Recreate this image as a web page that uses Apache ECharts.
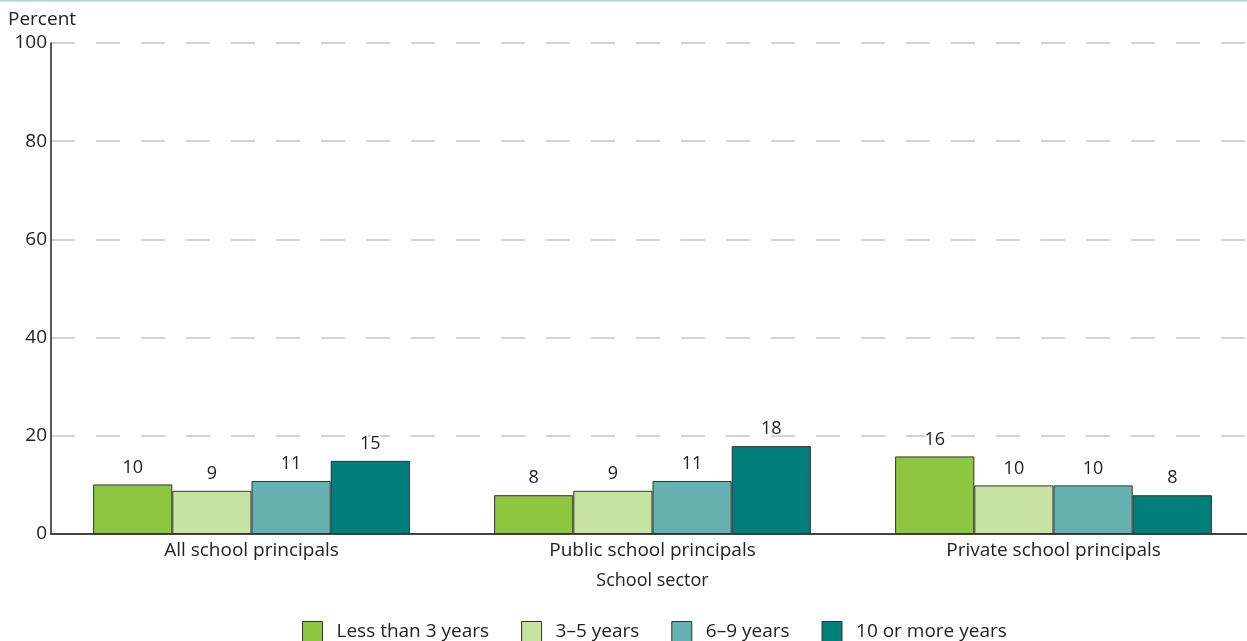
<!DOCTYPE html>
<html><head><meta charset="utf-8">
<script src="https://cdn.jsdelivr.net/npm/echarts@6/dist/echarts.min.js"></script>
<style>html,body{margin:0;padding:0;background:#fff}#c{width:1247px;height:641px}</style>
</head><body><div id="c"></div>
<script>
const categories = ['All school principals', 'Public school principals', 'Private school principals'];
const seriesNames = ['Less than 3 years', '3–5 years', '6–9 years', '10 or more years'];
const lessThan3 = [10.1, 7.9, 15.8];
const years3to5 = [8.8, 8.8, 9.9];
const years6to9 = [10.8, 10.8, 9.9];
const years10plus = [14.9, 17.9, 7.9];
const yTicks = [0, 20, 40, 60, 80, 100];
const colors = ['#8dc63f', '#c6e3a2', '#67b2b0', '#007f7a'];
const FONT = 'Open Sans';
const values = [lessThan3, years3to5, years6to9, years10plus];

const chart = echarts.init(document.getElementById('c'));
chart.setOption({
  animation: false,
  textStyle: { fontFamily: FONT },
  title: { text: 'Percent', left: 3, top: 5, textStyle: { fontFamily: FONT, fontSize: 19, fontWeight: 'normal', color: '#222' } },
  graphic: [{ type: 'rect', shape: { x: 0, y: 0, width: 1247, height: 1.5 }, style: { fill: '#a9d9d9' } }],
  grid: { left: 51, width: 1203, top: 43, height: 491, outerBoundsMode: 'none', containLabel: false },
  legend: {
    bottom: -6, left: 297, itemWidth: 20, itemHeight: 20, itemGap: 32, icon: 'rect',
    textStyle: { fontFamily: FONT, fontSize: 19, color: '#222', padding: [0, 0, 0, 9] },
    data: seriesNames.map((n, i) => ({ name: n, itemStyle: { color: colors[i], borderColor: '#333', borderWidth: 1 } }))
  },
  xAxis: {
    type: 'category', data: categories,
    name: 'School sector', nameLocation: 'middle', nameGap: 38,
    nameTextStyle: { fontFamily: FONT, fontSize: 18, color: '#222' },
    axisLine: { lineStyle: { color: '#444', width: 2 } },
    axisTick: { show: false },
    axisLabel: { fontFamily: FONT, fontSize: 19, color: '#222', margin: 7 }
  },
  yAxis: {
    type: 'value', min: 0, max: 100, interval: 20,
    axisLine: { show: true, lineStyle: { color: '#222', width: 1.5 } },
    axisTick: { show: false },
    axisLabel: { fontFamily: FONT, fontSize: 19, color: '#222', margin: 4, formatter: v => yTicks.includes(v) ? String(v) : '' },
    splitLine: { lineStyle: { color: '#c4c4c4', width: 1.5, type: [24, 21] } }
  },
  series: values.map((d, i) => ({
    name: seriesNames[i], type: 'bar', data: d,
    barGap: '0%', barCategoryGap: '21%',
    itemStyle: { color: colors[i], borderColor: '#333', borderWidth: 1 },
    label: { show: true, position: 'top', distance: 8, fontFamily: FONT, fontSize: 18, color: '#222',
             textBorderColor: '#fff', textBorderWidth: 3, formatter: p => Math.round(p.value) }
  }))
});
</script></body></html>
